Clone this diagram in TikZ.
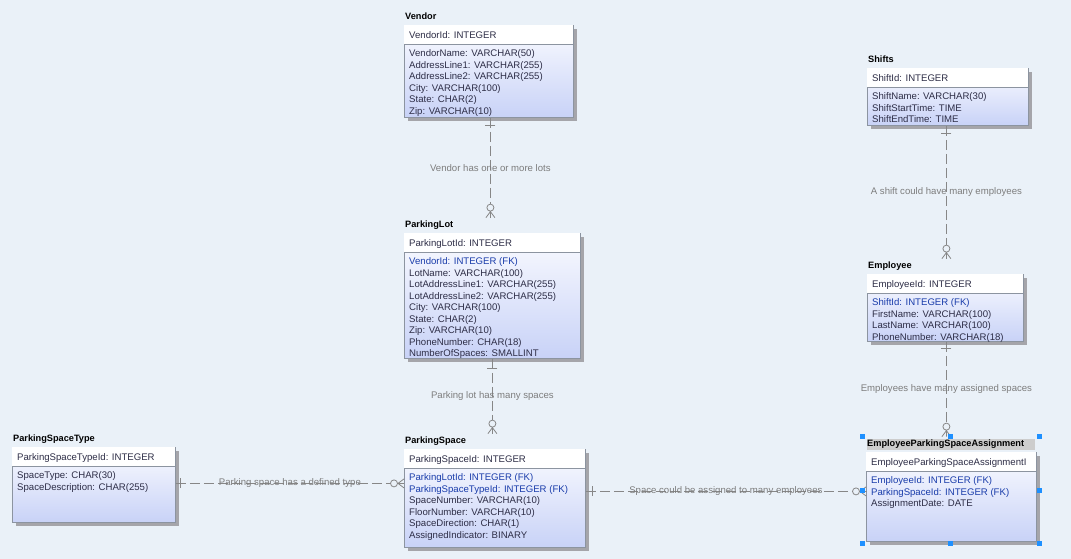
\documentclass[tikz,border=0pt]{standalone}
\usepackage{fontspec}
\setmainfont{Liberation Sans}
\usetikzlibrary{shadows,calc}
\definecolor{bg}{RGB}{234,241,248}
\definecolor{bord}{RGB}{140,148,160}
\definecolor{gtop}{RGB}{250,251,255}
\definecolor{gbot}{RGB}{200,210,247}
\definecolor{attrc}{RGB}{45,45,70}
\definecolor{fkblue}{RGB}{25,60,170}
\definecolor{relc}{RGB}{135,135,135}
\definecolor{labc}{RGB}{125,125,125}
\definecolor{shadowc}{RGB}{165,165,170}
\definecolor{titlebar}{RGB}{205,205,205}
\definecolor{handle}{RGB}{30,144,255}

\newcommand\fk[1]{\textcolor{fkblue}{#1}}
\newcommand\attrlist[4]{\foreach \attrtext [count=\i from 0] in {#4} {\node[attr, anchor=base west] (#1-\i) at ({#2},{#3+\i*11.55}) {\attrtext};}}
\newcommand\ertable[8]{%
 \node[ttl] (#1-t) at ({#2+1},{#3-5.5}) {#6};
 \node[tbox, minimum width=#4, minimum height=#5] (#1) at (#2,#3) {};
 \fill[white] ([shift={(0.4pt,-0.4pt)}]#1.north west) rectangle ([shift={(-0.4pt,-19pt)}]#1.north east);
 \draw[bord, line width=0.8pt] ([yshift=-19pt]#1.north west) -- ([yshift=-19pt]#1.north east);
 \node[attr, anchor=base west] (#1-pk) at ({#2+5},{#3+13.5}) {#7};
 \attrlist{#1}{#2+5}{#3+31.5}{#8}
}

\tikzset{
 tbox/.style={draw=bord, line width=0.8pt, top color=gtop, bottom color=gbot, anchor=north west, inner sep=0pt,
   drop shadow={shadow xshift=4pt, shadow yshift=-4pt, fill=shadowc, opacity=1}},
 attr/.style={inner sep=0pt, font=\fontsize{9.6}{11}\selectfont, text=attrc},
 ttl/.style={inner sep=0pt, font=\fontsize{9.2}{11}\selectfont\bfseries, anchor=base west},
 rel/.style={draw=relc, line width=0.8pt, dash pattern=on 10pt off 4pt},
 lab/.style={inner sep=0pt, font=\fontsize{9.6}{11}\selectfont, text=labc},
 mk/.style={draw=relc, line width=0.8pt},
 many/.pic={\fill[bg] (-10,0) circle (3.5pt); \draw[mk] (-10,0) circle (3.5pt) (-6.5,0) -- (0,0) (-6,0) -- (0,-4.5) (-6,0) -- (0,4.5);},
 one/.pic={\draw[mk] (0,-5) -- (0,5);},
 hdl/.style={fill=handle, minimum size=5pt, inner sep=0pt}
}

\begin{document}
\begin{tikzpicture}[x=1pt,y=-1pt]
\fill[bg] (0,0) rectangle (1071,559);
\useasboundingbox (0,0) rectangle (1071,559);

% title bar of selected table (behind its title)
\fill[titlebar] (867,439) rectangle (1035,450);

\ertable{vendor}{404}{25}{169}{92}{Vendor}{VendorId: INTEGER}{VendorName: VARCHAR(50), AddressLine1: VARCHAR(255), AddressLine2: VARCHAR(255), City: VARCHAR(100), State: CHAR(2), Zip: VARCHAR(10)}

\ertable{parkinglot}{404}{233}{176}{125}{ParkingLot}{ParkingLotId: INTEGER}{\fk{VendorId: INTEGER (FK)}, LotName: VARCHAR(100), LotAddressLine1: VARCHAR(255), LotAddressLine2: VARCHAR(255), City: VARCHAR(100), State: CHAR(2), Zip: VARCHAR(10), PhoneNumber: CHAR(18), NumberOfSpaces: SMALLINT}

\ertable{parkingspace}{404}{449}{181}{98}{ParkingSpace}{ParkingSpaceId: INTEGER}{\fk{ParkingLotId: INTEGER (FK)}, \fk{ParkingSpaceTypeId: INTEGER (FK)}, SpaceNumber: VARCHAR(10), FloorNumber: VARCHAR(10), SpaceDirection: CHAR(1), AssignedIndicator: BINARY}

\ertable{pstype}{12}{447}{163}{75}{ParkingSpaceType}{ParkingSpaceTypeId: INTEGER}{SpaceType: CHAR(30), SpaceDescription: CHAR(255)}

\ertable{shifts}{867}{68}{161}{57}{Shifts}{ShiftId: INTEGER}{ShiftName: VARCHAR(30), ShiftStartTime: TIME, ShiftEndTime: TIME}

\ertable{employee}{867}{274}{156}{67}{Employee}{EmployeeId: INTEGER}{\fk{ShiftId: INTEGER (FK)}, FirstName: VARCHAR(100), LastName: VARCHAR(100), PhoneNumber: VARCHAR(18)}

\ertable{epsa}{866}{452}{170}{89}{EmployeeParkingSpaceAssignment}{EmployeeParkingSpaceAssignmentI}{\fk{EmployeeId: INTEGER (FK)}, \fk{ParkingSpaceId: INTEGER (FK)}, AssignmentDate: DATE}

% C1 Vendor -> ParkingLot
\coordinate (r1a) at ($(vendor.south)+(1.5,0)$);
\coordinate (r1b) at ($(r1a |- parkinglot-t.north)+(0,-3)$);
\draw[rel] (r1a) -- (r1b);
\pic[rotate=-90] at ($(r1a)+(0,8)$) {one};
\pic[rotate=-90] at (r1b) {many};
\node[lab] (l1) at ($(r1a)!0.5!(r1b)$) {Vendor has one or more lots};

% C2 ParkingLot -> ParkingSpace
\coordinate (r2a) at (parkinglot.south);
\coordinate (r2b) at ($(r2a |- parkingspace-t.north)+(0,-3)$);
\draw[rel] (r2a) -- (r2b);
\pic[rotate=-90] at ($(r2a)+(0,10)$) {one};
\pic[rotate=-90] at (r2b) {many};
\node[lab] (l2) at ($(r2a)!0.5!(r2b)$) {Parking lot has many spaces};

% C3 ParkingSpaceType -> ParkingSpace
\coordinate (r3a) at ($(pstype.east)+(0,-1.5)$);
\coordinate (r3b) at (parkingspace.west |- r3a);
\draw[rel] (r3a) -- (r3b);
\pic at ($(r3a)+(5,0)$) {one};
\pic at (r3b) {many};
\node[lab] (l3) at ($(r3a)!0.5!(r3b)$) {Parking space has a defined type};

% C4 ParkingSpace -> EmployeeParkingSpaceAssignment
\coordinate (r4a) at ($(parkingspace.east)+(0,-7)$);
\coordinate (r4b) at (epsa.west |- r4a);
\draw[rel] (r4a) -- (r4b);
\pic at ($(r4a)+(7,0)$) {one};
\pic at (r4b) {many};
\node[lab] (l4) at ($(r4a)!0.5!(r4b)$) {Space could be assigned to many employees};

% C5 Shifts -> Employee
\coordinate (r5a) at ($(shifts.south)+(-1.5,0)$);
\coordinate (r5b) at ($(r5a |- employee-t.north)+(0,-3)$);
\draw[rel] (r5a) -- (r5b);
\pic[rotate=-90] at ($(r5a)+(0,8)$) {one};
\pic[rotate=-90] at (r5b) {many};
\node[lab] (l5) at ($(r5a)!0.5!(r5b)$) {A shift could have many employees};

% C6 Employee -> EmployeeParkingSpaceAssignment
\coordinate (r6a) at ($(employee.south)+(1,0)$);
\coordinate (r6b) at ($(r6a |- epsa-t.north)+(0,-3)$);
\draw[rel] (r6a) -- (r6b);
\pic[rotate=-90] at ($(r6a)+(0,7)$) {one};
\pic[rotate=-90] at (r6b) {many};
\node[lab] (l6) at ($(r6a)!0.5!(r6b)$) {Employees have many assigned spaces};

% selection handles
\foreach \hx/\hy [count=\k] in {862/436, 950/436, 1039/436, 862/490, 1039/490, 862/543, 950/543, 1039/543}
  \node[hdl] (h\k) at (\hx,\hy) {};
\end{tikzpicture}
\end{document}
